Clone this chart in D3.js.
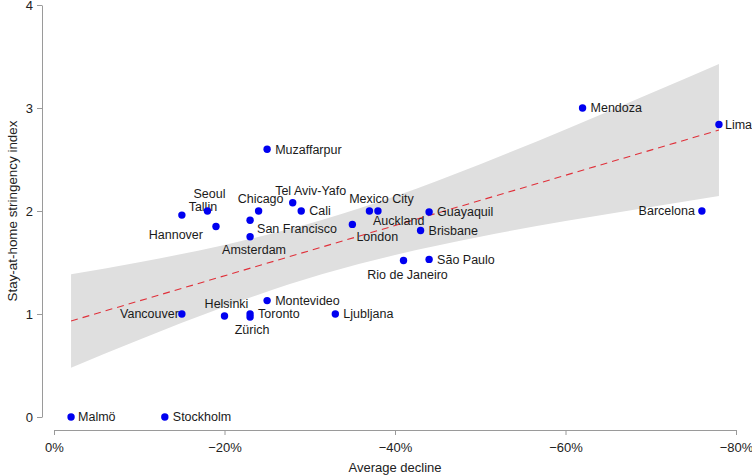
<!DOCTYPE html>
<html>
<head>
<meta charset="utf-8">
<script src="https://cdn.jsdelivr.net/npm/d3@7"></script>
<style>
  body { margin: 0; background: #fff; }
  svg { font-family: "Liberation Sans", Arial, Helvetica, sans-serif; }
</style>
</head>
<body>
<div id="canvas"></div>
<script>
// city points
const cities = ["Malmö", "Stockholm", "Vancouver", "Helsinki", "Toronto", "Zürich", "Montevideo",
  "Ljubljana", "Tallin", "Seoul", "Hannover", "Chicago", "San Francisco", "Amsterdam",
  "Tel Aviv-Yafo", "Cali", "London", "Mexico City", "Auckland", "Guayaquil", "Brisbane",
  "Rio de Janeiro", "São Paulo", "Muzaffarpur", "Mendoza", "Lima", "Barcelona"];
const decline = [-2, -13, -15, -20, -23, -23, -25, -33, -15, -18, -19, -24, -23, -23,
  -28, -29, -35, -37, -38, -44, -43, -41, -44, -25, -62, -78, -76];
const stringency = [0, 0, 1.0, 0.98, 1.0, 0.97, 1.13, 1.0, 1.96, 2.0, 1.85, 2.0, 1.91, 1.75,
  2.08, 2.0, 1.87, 2.0, 2.0, 1.99, 1.81, 1.52, 1.53, 2.6, 3.0, 2.84, 2.0];

// linear fit and its confidence band
const fitX = [-2, -78];
const fitY = [0.932, 2.786];
const bandX = [-2, -10, -20, -31.5, -40, -50, -60, -70, -78];
const bandLow = [0.479, 0.751, 1.071, 1.388, 1.574, 1.751, 1.902, 2.04, 2.146];
const bandHigh = [1.385, 1.503, 1.671, 1.916, 2.144, 2.455, 2.792, 3.142, 3.426];

const xTicks = [0, -20, -40, -60, -80];
const yTicks = [0, 1, 2, 3, 4];

// where each label sits next to its dot: [anchor, dx, dy]
const labelPlace = {
  "Malmö": ["start", 7, 0], "Stockholm": ["start", 8, 0], "Vancouver": ["end", -3, 0],
  "Helsinki": ["middle", 2, -12], "Toronto": ["start", 8, 0], "Zürich": ["middle", 2, 13],
  "Montevideo": ["start", 8, 0], "Ljubljana": ["start", 8, 0], "Tallin": ["middle", 21, -8],
  "Seoul": ["middle", 2, -17], "Hannover": ["end", -13, 8], "Chicago": ["middle", 2, -12],
  "San Francisco": ["start", 7, 8], "Amsterdam": ["middle", 4, 13],
  "Tel Aviv-Yafo": ["middle", 18, -12], "Cali": ["start", 8, 0], "London": ["start", 4, 12],
  "Mexico City": ["middle", 12, -12], "Auckland": ["start", -5, 10], "Guayaquil": ["start", 8, 0],
  "Brisbane": ["start", 8, 0], "Rio de Janeiro": ["middle", 4, 14], "São Paulo": ["start", 8, 0],
  "Muzaffarpur": ["start", 8, 0], "Mendoza": ["start", 8, 0], "Lima": ["start", 6, 0],
  "Barcelona": ["end", -7, 0]
};

const width = 752;
const height = 475;

const svg = d3
  .select("#canvas")
  .append("svg")
  .attr("width", width)
  .attr("height", height);

const x = d3.scaleLinear().domain([0, -80]).range([54, 736]);
const y = d3.scaleLinear().domain([0, 4]).range([417, 5]);

const points = cities.map((c, i) => ({ city: c, dx: decline[i], sy: stringency[i] }));
const band = bandX.map((v, i) => [v, bandLow[i], bandHigh[i]]);

// confidence band
svg
  .append("path")
  .datum(band)
  .attr("fill", "#dfdfdf")
  .attr(
    "d",
    d3
      .area()
      .x((d) => x(d[0]))
      .y0((d) => y(d[1]))
      .y1((d) => y(d[2]))
      .curve(d3.curveMonotoneX)
  );

// fit line
svg
  .append("path")
  .datum(fitX.map((v, i) => [v, fitY[i]]))
  .attr("fill", "none")
  .attr("stroke", "#e0303a")
  .attr("stroke-width", 1.1)
  .attr("stroke-dasharray", "7,5")
  .attr(
    "d",
    d3
      .line()
      .x((d) => x(d[0]))
      .y((d) => y(d[1]))
  );

// axes
const xAxis = d3
  .axisBottom(x)
  .tickValues(xTicks)
  .tickSizeInner(5)
  .tickSizeOuter(0)
  .tickPadding(8)
  .tickFormat((v) => (v === 0 ? "0%" : "\u2212" + Math.abs(v) + "%"));

const yAxis = d3
  .axisLeft(y)
  .tickValues(yTicks)
  .tickSizeInner(5)
  .tickSizeOuter(0)
  .tickPadding(4)
  .tickFormat(d3.format("d"));

const gx = svg.append("g").attr("transform", "translate(0,430)").call(xAxis);
const gy = svg.append("g").attr("transform", "translate(42,0)").call(yAxis);

[gx, gy].forEach((g) => {
  g.selectAll("path, line").attr("stroke", "#9a9a9a");
  g.selectAll("text").attr("fill", "#222").style("font-size", "13px");
  g.select(".domain").attr("stroke", "#9a9a9a");
});

svg
  .append("text")
  .attr("x", 395)
  .attr("y", 472)
  .style("text-anchor", "middle")
  .style("font-size", "13px")
  .attr("fill", "#222")
  .text("Average decline");

svg
  .append("text")
  .attr("transform", "translate(17,211) rotate(-90)")
  .style("text-anchor", "middle")
  .style("font-size", "13.4px")
  .attr("fill", "#222")
  .text("Stay-at-home stringency index");

// labels first so the dots sit on top
svg
  .selectAll(".lab")
  .data(points)
  .join("text")
  .attr("class", "lab")
  .attr("x", (d) => x(d.dx) + labelPlace[d.city][1])
  .attr("y", (d) => y(d.sy) + labelPlace[d.city][2])
  .attr("dy", "0.35em")
  .style("text-anchor", (d) => labelPlace[d.city][0])
  .style("font-size", "12.5px")
  .attr("fill", "#1a1a1a")
  .text((d) => d.city);

svg
  .selectAll(".dot")
  .data(points)
  .join("circle")
  .attr("class", "dot")
  .attr("cx", (d) => x(d.dx))
  .attr("cy", (d) => y(d.sy))
  .attr("r", 3.7)
  .attr("fill", "#0000f0");
</script>
</body>
</html>
